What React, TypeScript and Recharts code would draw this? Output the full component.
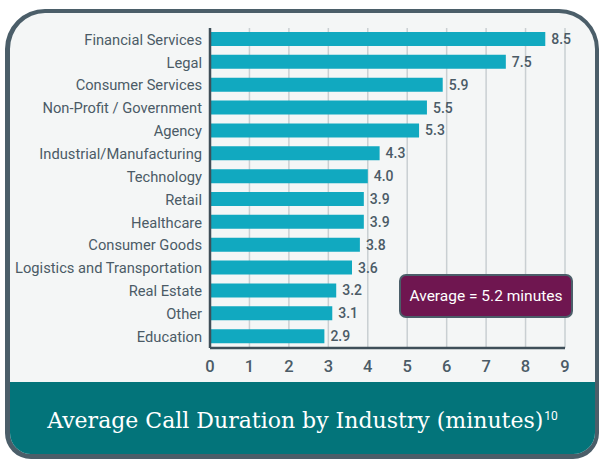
import React from "react";
import { BarChart, Bar, XAxis, YAxis, CartesianGrid, LabelList } from "recharts";

const industries = [
  "Financial Services",
  "Legal",
  "Consumer Services",
  "Non-Profit / Government",
  "Agency",
  "Industrial/Manufacturing",
  "Technology",
  "Retail",
  "Healthcare",
  "Consumer Goods",
  "Logistics and Transportation",
  "Real Estate",
  "Other",
  "Education",
];
const minutes = [8.5, 7.5, 5.9, 5.5, 5.3, 4.3, 4.0, 3.9, 3.9, 3.8, 3.6, 3.2, 3.1, 2.9];
const xTicks = [0, 1, 2, 3, 4, 5, 6, 7, 8, 9];
const titleText = "Average Call Duration by Industry (minutes)";
const footnote = "10";
const averageText = "Average = 5.2 minutes";

const data = industries.map((name, i) => ({ name, value: minutes[i] }));

const TEXT = "#4b5b66";

export default function App() {
  return (
    <div style={{ position: "absolute", left: 0, top: 0, width: 599, height: 460, background: "#ffffff", overflow: "hidden" }}>
      <div
        style={{
          position: "absolute",
          left: 5,
          top: 9,
          width: 594,
          height: 450,
          boxSizing: "border-box",
          border: "4px solid #4b5e69",
          borderLeftWidth: 5,
          borderBottomWidth: 5,
          borderRadius: "40px 40px 26px 26px",
          background: "#f4f6f6",
          overflow: "hidden",
        }}
      >
        <div
          style={{
            position: "absolute",
            left: 0,
            right: 0,
            top: 369,
            bottom: 0,
            background: "#03747a",
          }}
        >
          <div
            style={{
              position: "absolute",
              left: 0,
              right: 0,
              top: 26,
              textAlign: "center",
              color: "#ffffff",
              fontFamily: "'DejaVu Serif', serif",
              fontSize: 22,
              lineHeight: "26px",
              whiteSpace: "nowrap",
            }}
          >
            {titleText}
            <sup style={{ fontFamily: "Roboto, sans-serif", fontSize: 12, marginLeft: 1, verticalAlign: "8px", lineHeight: 0 }}>{footnote}</sup>
          </div>
        </div>
      </div>
      <div style={{ position: "absolute", left: 0, top: 0 }}>
        <BarChart
          width={599}
          height={460}
          data={data}
          layout="vertical"
          margin={{ top: 28, right: 34, left: 0, bottom: 82 }}
          barSize={14}
        >
          <CartesianGrid horizontal={false} stroke="#c9cfd2" strokeWidth={1.5} />
          <XAxis
            type="number"
            domain={[0, 9]}
            ticks={xTicks}
            interval={0}
            height={30}
            tickLine={false}
            tickMargin={6}
            axisLine={{ stroke: "#3f4f59", strokeWidth: 2.5 }}
            tick={{ fill: TEXT, fontSize: 16.5, fontFamily: "Roboto, sans-serif", fontWeight: 500 }}
          />
          <YAxis
            type="category"
            dataKey="name"
            width={210}
            interval={0}
            tickLine={false}
            axisLine={{ stroke: "#3f4f59", strokeWidth: 2.5 }}
            tick={{ fill: TEXT, fontSize: 14.7, fontFamily: "Roboto, sans-serif" }}
          />
          <Bar dataKey="value" fill="#11a9c0" isAnimationActive={false}>
            <LabelList
              dataKey="value"
              position="right"
              offset={6}
              formatter={(v: any) => Number(v).toFixed(1)}
              style={{ fill: TEXT, fontSize: 14, fontFamily: "Roboto, sans-serif", fontWeight: 500 }}
            />
          </Bar>
        </BarChart>
      </div>
      <div
        style={{
          position: "absolute",
          left: 399,
          top: 274,
          width: 174,
          height: 44,
          boxSizing: "border-box",
          border: "2px solid #4b5e69",
          borderRadius: 7,
          background: "#6f1650",
          color: "#ffffff",
          fontFamily: "Roboto, sans-serif",
          fontSize: 15.5,
          display: "flex",
          alignItems: "center",
          justifyContent: "center",
          whiteSpace: "nowrap",
        }}
      >
        {averageText}
      </div>
    </div>
  );
}
